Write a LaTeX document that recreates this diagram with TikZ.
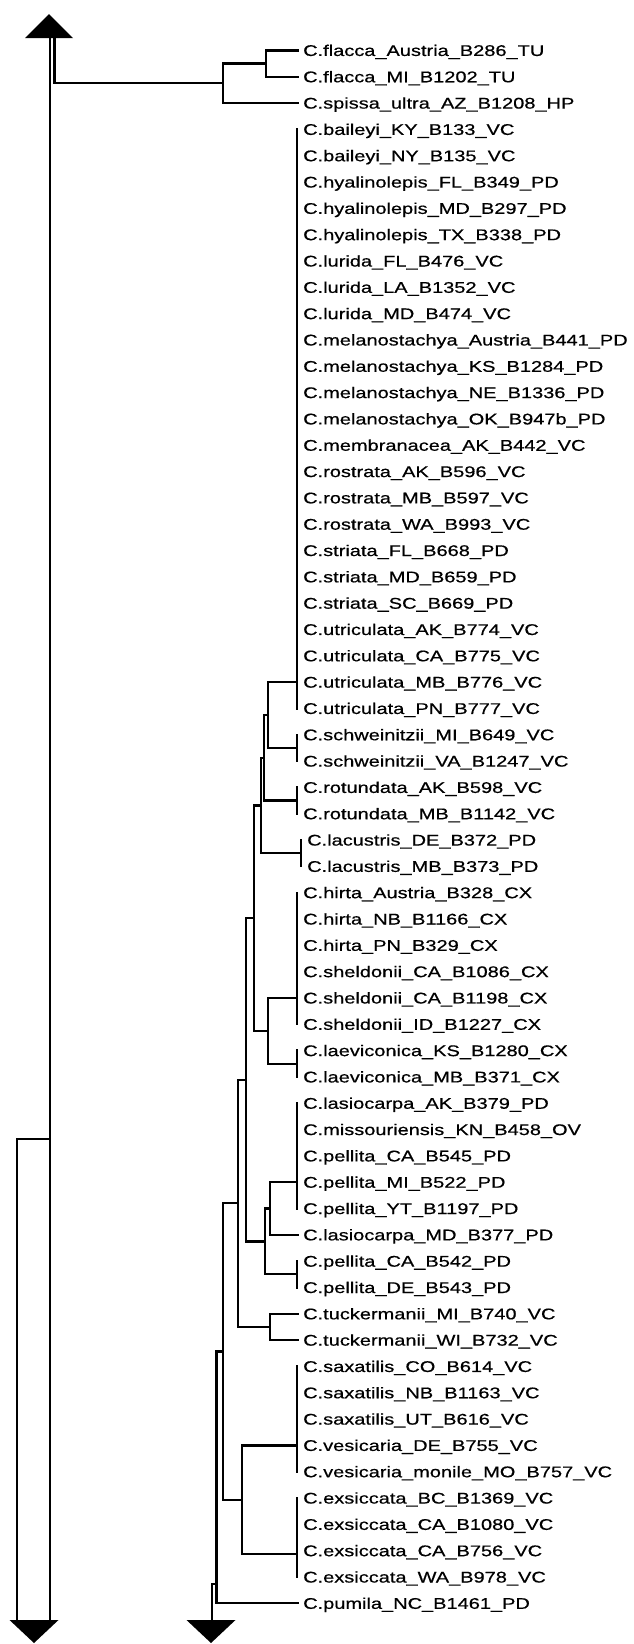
\documentclass[tikz,border=0pt]{standalone}
\usepackage{fontspec}
\newfontfamily\labfont[FakeStretch=1.29,FakeBold=0.6]{Liberation Sans}
\newcommand\bnode[3]{%
  \draw[br] (#1 |- #2) -- (#1 |- #3);
  \draw[br] (#1 |- #2) -- (#2);
  \draw[br] (#1 |- #3) -- (#3);}
\newcommand\pnode[3]{\draw[br] (#1 |- #2) -- (#1 |- #3);}
\begin{document}
\begin{tikzpicture}[x=1pt,y=-1pt,
  br/.style={line width=2.2pt, line cap=rect, black},
  leaf/.style={anchor=west, inner xsep=5pt, inner ysep=0pt, text height=11.1pt, text depth=0pt,
    font=\labfont\fontsize{15.5}{16}\selectfont}]
\useasboundingbox (0,0) rectangle (633,1644);
% leaves
\foreach \t [count=\i] in {
C.flacca\_Austria\_B286\_TU,
C.flacca\_MI\_B1202\_TU,
C.spissa\_ultra\_AZ\_B1208\_HP,
C.baileyi\_KY\_B133\_VC,
C.baileyi\_NY\_B135\_VC,
C.hyalinolepis\_FL\_B349\_PD,
C.hyalinolepis\_MD\_B297\_PD,
C.hyalinolepis\_TX\_B338\_PD,
C.lurida\_FL\_B476\_VC,
C.lurida\_LA\_B1352\_VC,
C.lurida\_MD\_B474\_VC,
C.melanostachya\_Austria\_B441\_PD,
C.melanostachya\_KS\_B1284\_PD,
C.melanostachya\_NE\_B1336\_PD,
C.melanostachya\_OK\_B947b\_PD,
C.membranacea\_AK\_B442\_VC,
C.rostrata\_AK\_B596\_VC,
C.rostrata\_MB\_B597\_VC,
C.rostrata\_WA\_B993\_VC,
C.striata\_FL\_B668\_PD,
C.striata\_MD\_B659\_PD,
C.striata\_SC\_B669\_PD,
C.utriculata\_AK\_B774\_VC,
C.utriculata\_CA\_B775\_VC,
C.utriculata\_MB\_B776\_VC,
C.utriculata\_PN\_B777\_VC,
C.schweinitzii\_MI\_B649\_VC,
C.schweinitzii\_VA\_B1247\_VC,
C.rotundata\_AK\_B598\_VC,
C.rotundata\_MB\_B1142\_VC,
C.lacustris\_DE\_B372\_PD,
C.lacustris\_MB\_B373\_PD,
C.hirta\_Austria\_B328\_CX,
C.hirta\_NB\_B1166\_CX,
C.hirta\_PN\_B329\_CX,
C.sheldonii\_CA\_B1086\_CX,
C.sheldonii\_CA\_B1198\_CX,
C.sheldonii\_ID\_B1227\_CX,
C.laeviconica\_KS\_B1280\_CX,
C.laeviconica\_MB\_B371\_CX,
C.lasiocarpa\_AK\_B379\_PD,
C.missouriensis\_KN\_B458\_OV,
C.pellita\_CA\_B545\_PD,
C.pellita\_MI\_B522\_PD,
C.pellita\_YT\_B1197\_PD,
C.lasiocarpa\_MD\_B377\_PD,
C.pellita\_CA\_B542\_PD,
C.pellita\_DE\_B543\_PD,
C.tuckermanii\_MI\_B740\_VC,
C.tuckermanii\_WI\_B732\_VC,
C.saxatilis\_CO\_B614\_VC,
C.saxatilis\_NB\_B1163\_VC,
C.saxatilis\_UT\_B616\_VC,
C.vesicaria\_DE\_B755\_VC,
C.vesicaria\_monile\_MO\_B757\_VC,
C.exsiccata\_BC\_B1369\_VC,
C.exsiccata\_CA\_B1080\_VC,
C.exsiccata\_CA\_B756\_VC,
C.exsiccata\_WA\_B978\_VC,
C.pumila\_NC\_B1461\_PD}{
  \pgfmathsetmacro\lx{(\i==31||\i==32)?302:298}
  \node[leaf] (L\i) at (\lx,{50.4+26.32*(\i-1)}) {\t};
}
% arrows
\coordinate (topA) at (49,38);
\coordinate (botL) at (34,1620);
\coordinate (botM) at (211,1620);
\fill (topA) ++(-24,0) -- ++(48,0) -- ++(-24,-24) -- cycle;
\fill (botL) ++(-24.5,0) -- ++(49,0) -- ++(-24.5,23) -- cycle;
\fill (botM) ++(-24.5,0) -- ++(49,0) -- ++(-24.5,23) -- cycle;
% flacca / spissa
\coordinate (FL) at (266,63.5);
\coordinate (FS) at (223,83.3);
\bnode{FL}{L1.west}{L2.west}
\bnode{FS}{FL}{L3.west}
% left lines
\coordinate (R1) at (50,38);
\coordinate (R2) at (54.5,38);
\coordinate (K) at (17,1139);
\draw[br] (R2) -- (R2 |- FS) -- (FS);
\draw[br] (R1) -- (R1 |- botL);
\draw[br] (R1 |- K) -- (K) -- (K |- botL);
% main clade
\coordinate (P1) at (297,682.1);
\coordinate (SW) at (297,747.9);
\coordinate (A) at (268,715);
\coordinate (RO) at (297,800.5);
\coordinate (B1) at (264,757.8);
\coordinate (LA) at (301,853.2);
\coordinate (B2) at (261,805.5);
\coordinate (P2) at (297,997.9);
\coordinate (LV) at (297,1063.7);
\coordinate (D) at (268,1030.8);
\coordinate (C) at (254,918);
\coordinate (P3) at (297,1182.2);
\coordinate (G) at (270,1208.5);
\coordinate (PD) at (297,1274.3);
\coordinate (H) at (265,1241.4);
\coordinate (E) at (246,1079.7);
\coordinate (TU) at (270,1327);
\coordinate (I) at (238,1203.3);
\coordinate (P4) at (297,1445.4);
\coordinate (P5) at (297,1553.9);
\coordinate (LL) at (242,1499.7);
\coordinate (J) at (223,1351.5);
\coordinate (M) at (216.5,1477);
\coordinate (N) at (212,1584);
\pnode{P1}{L4.west}{L26.west}
\pnode{SW}{L27.west}{L28.west}
\pnode{RO}{L29.west}{L30.west}
\pnode{LA}{L31.west}{L32.west}
\pnode{P2}{L33.west}{L38.west}
\pnode{LV}{L39.west}{L40.west}
\pnode{P3}{L41.west}{L45.west}
\pnode{PD}{L47.west}{L48.west}
\pnode{P4}{L51.west}{L55.west}
\pnode{P5}{L56.west}{L59.west}
\bnode{A}{P1}{SW}
\bnode{B1}{A}{RO}
\bnode{B2}{B1}{LA}
\bnode{D}{P2}{LV}
\bnode{C}{B2}{D}
\bnode{G}{P3}{L46.west}
\bnode{H}{G}{PD}
\bnode{E}{C}{H}
\bnode{TU}{L49.west}{L50.west}
\bnode{I}{E}{TU}
\bnode{LL}{P4}{P5}
\bnode{J}{I}{LL}
\bnode{M}{J}{L60.west}
\draw[br] (M |- N) -- (N) -- (N |- botM);
\end{tikzpicture}
\end{document}
